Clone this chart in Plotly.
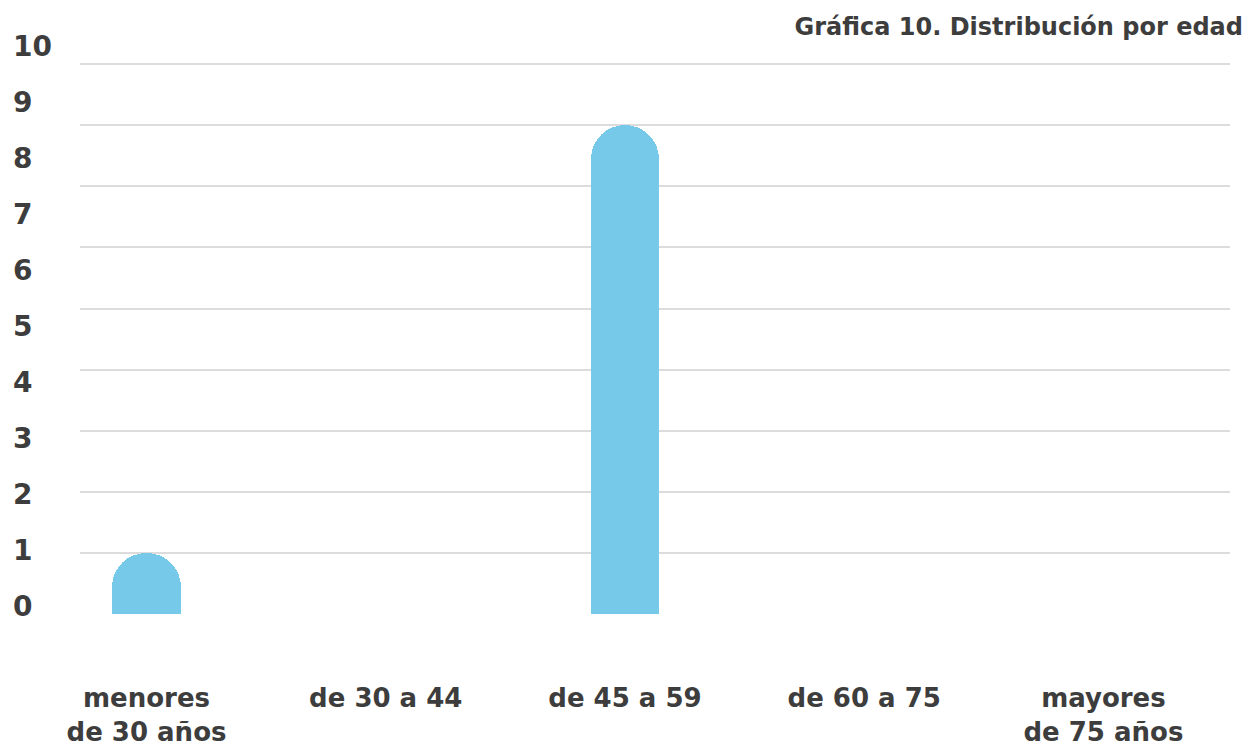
import plotly.graph_objects as go

# Age distribution data
categories = ["menores<br>de 30 años", "de 30 a 44", "de 45 a 59", "de 60 a 75", "mayores<br>de 75 años"]
counts = [1, 0, 8, 0, 0]
scale_ticks = list(range(0, 11))

title_text = "Gráfica 10. Distribución por edad"

TEXT = "#3d3d3d"
BAR = "#76c9e8"
GRID = "#dcdcdc"
FONT = "DejaVu Sans"

W, H = 1247, 748
L, R, T, B = 80, 17, 40, 134

fig = go.Figure()

fig.add_trace(go.Bar(
    x=list(range(len(categories))),
    y=counts,
    width=0.288,
    marker=dict(color=BAR, cornerradius="50%", line=dict(width=0)),
    hoverinfo="skip",
    showlegend=False,
))

# companion axis carrying the left-hand scale labels
fig.add_trace(go.Scatter(
    x=[None], y=[None], yaxis="y2", mode="markers",
    showlegend=False, hoverinfo="skip",
))

fig.update_layout(
    width=W, height=H,
    margin=dict(l=0, r=R, t=T, b=B, autoexpand=False),
    paper_bgcolor="white",
    plot_bgcolor="white",
    font=dict(family=FONT, color=TEXT),
    title=dict(
        text=f"<b>{title_text}</b>",
        xref="container", yref="container",
        x=1243 / W, xanchor="right",
        y=1 - 27 / H, yanchor="middle",
        font=dict(size=24, color=TEXT, family=FONT),
        automargin=False,
    ),
    xaxis=dict(
        domain=[L / (W - R), 1],
        range=[-0.278, 4.529],
        tickmode="array",
        tickvals=list(range(len(categories))),
        ticktext=[f"<b>{c}</b>" for c in categories],
        tickfont=dict(size=26, color=TEXT, family=FONT),
        ticks="",
        ticklabelstandoff=66,
        showgrid=False,
        zeroline=False,
        showline=False,
        fixedrange=True,
        automargin=False,
    ),
    yaxis=dict(
        range=[0, 574 / 61.1],
        tick0=0, dtick=1,
        showticklabels=False,
        ticks="",
        showgrid=True,
        gridcolor=GRID,
        gridwidth=2,
        zeroline=False,
        showline=False,
        fixedrange=True,
        automargin=False,
        layer="above traces",
    ),
    yaxis2=dict(
        overlaying="y",
        side="right",
        anchor="free",
        position=0,
        range=[-0.143, 10.112],
        tickmode="array",
        tickvals=scale_ticks,
        ticktext=[f"<b>{v}</b>" for v in scale_ticks],
        tickfont=dict(size=28, color=TEXT, family=FONT),
        ticks="",
        ticklabelstandoff=12,
        showgrid=False,
        zeroline=False,
        showline=False,
        fixedrange=True,
        automargin=False,
    ),
    bargap=0,
)

fig.write_html("out.html")
